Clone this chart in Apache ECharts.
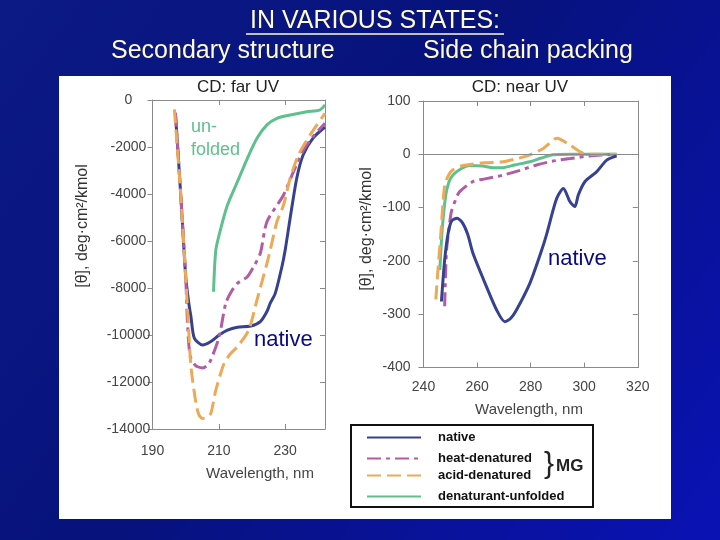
<!DOCTYPE html>
<html><head><meta charset="utf-8">
<script src="https://cdn.jsdelivr.net/npm/echarts@6/dist/echarts.min.js"></script>
<style>html,body{margin:0;padding:0;background:#06127a}#c{width:720px;height:540px}</style>
</head><body><div id="c"></div>
<script>
// ---------- DATA ----------
const seriesNames = ['native', 'heat-denatured', 'acid-denatured', 'denaturant-unfolded'];
const farTicks = [190, 210, 230];
const nearTicks = [240, 260, 280, 300, 320];

// Far UV (wavelength nm, ellipticity)
const farNativeX = [196.9,198.5,200,201,201.6,202.6,205.1,207.6,210.1,212.6,215.6,219.6,222.5,224.5,225.5,227,229,230,231.5,233.5,235.4,238.4,242];
const farNativeY = [-550,-4000,-7500,-8700,-9230,-10130,-10430,-10280,-10000,-9790,-9670,-9620,-9430,-9000,-8640,-8230,-7100,-6380,-5020,-3320,-2340,-1620,-1150];
const farHeatX = [196.9,198.5,200,200.6,201.4,203,205.1,206.5,207.6,210.1,212.1,214,215.6,218.6,220.5,222.5,224.5,229.5,232.5,235.5,238.4,242];
const farHeatY = [-550,-4000,-7500,-9650,-10920,-11300,-11400,-11300,-11060,-10070,-8640,-8100,-7800,-7520,-7090,-6520,-5180,-4040,-3050,-2130,-1560,-990];
const farAcidX = [196.6,198.5,200,200.8,201.6,203.1,204,205.1,206.5,207.6,209.1,211.6,213.5,215.6,219,221.5,224.5,225.5,227.5,229.5,231.5,234,237.5,242];
const farAcidY = [-400,-4000,-7500,-9500,-11350,-12900,-13400,-13550,-13500,-13330,-12340,-11200,-10800,-10500,-9790,-8510,-6950,-6380,-5180,-4470,-3330,-2340,-1490,-570];
const farUnfX = [208.4,209.1,210.6,212.6,215.6,218.6,221.5,224.5,227.5,231.5,236.5,240.4,242];
const farUnfY = [-8160,-6380,-5460,-4470,-3480,-2480,-1630,-1060,-780,-640,-500,-430,-210];

// Near UV
const nearNativeX = [246.7,247.9,249.2,250.5,252.5,254.5,256.5,258.5,263.5,267.3,270.4,272.5,274.7,279.7,284.1,285.9,289.7,292.2,294.7,296.5,297.8,300.3,304.6,308.4,312.1];
const nearNativeY = [-276,-198,-148,-125,-120,-128,-150,-186,-248,-292,-314,-308,-292,-242,-180,-151,-83,-64,-89,-98,-76,-51,-33,-11,-3];
const nearHeatX = [247.9,248.2,248.6,249.5,250.4,252,253.5,258.5,263,269.7,276,282.2,288,294.7,302,312];
const nearHeatY = [-285,-230,-180,-140,-108,-85,-70,-51,-46,-39,-30,-20,-13,-8,-3,0];
const nearAcidX = [244.6,245.5,246.3,247.9,249.5,251,254,257.3,263,269.7,275,279.7,284.7,289.9,294.7,299.6,305,312.1];
const nearAcidY = [-272,-210,-161,-58,-38,-29,-22,-19,-16,-14,-8,-1,11,30,17,2,0,0];
const nearUnfX = [246.1,247,248.3,249.5,251,254,257.3,262,266,269.7,274,279.7,284,288.4,295,312.1];
const nearUnfY = [-217,-140,-77,-52,-39,-27,-21,-22,-25,-25,-20,-14,-7,-1,0,0];

// ---------- STYLE ----------
const FONT = 'Liberation Sans, Arial, sans-serif';
const colors = {native:'#36428f', heat:'#b15ca4', acid:'#eda955', unf:'#5ec08d'};
const zip = (xs, ys) => xs.map((x, i) => [x, ys[i]]);

function line(name, xs, ys, color, type, xi, yi, extra) {
  return Object.assign({
    name, type:'line', xAxisIndex:xi, yAxisIndex:yi, data: zip(xs, ys),
    symbol:'none', smooth:0.25, clip:true,
    lineStyle:{color, width:3, type, cap:'butt'}, itemStyle:{color}
  }, extra || {});
}
const heatDash = [14,5,4,5];
const acidDash = [14,6];

const axisCol = '#8a8a8a';
function xAx(grid, min, max, pos, ticks, margin) {
  return {type:'value', gridIndex:grid, min, max, interval:20, position:pos,
    axisLine:{show:true, onZero:false, lineStyle:{color:axisCol, width:1}},
    axisTick:{show:true, inside:true, length:5, lineStyle:{color:axisCol}},
    splitLine:{show:false},
    axisLabel:{show:!!ticks, margin, fontSize:14, color:'#444', fontFamily:FONT,
      formatter: v => (ticks && ticks.indexOf(Math.round(v)) >= 0 ? String(Math.round(v)) : '')}};
}
function yAx(grid, min, max, interval, pos, opts) {
  return Object.assign({type:'value', gridIndex:grid, min, max, interval, position:pos,
    axisLine:{show:true, onZero:false, lineStyle:{color:axisCol, width:1}},
    axisTick:{show:true, inside:pos==='right', length:5, lineStyle:{color:axisCol}},
    splitLine:{show:false},
    axisLabel:{show:false}}, opts || {});
}

const chart = echarts.init(document.getElementById('c'), null, {renderer:'canvas'});
const option = {
  animation:false,
  textStyle:{fontFamily:FONT},
  grid:[
    {left:152.5, top:100, width:172.5, height:329},
    {left:423.5, top:101, width:214.3, height:266.6}
  ],
  xAxis:[
    xAx(0, 190, 242, 'bottom', farTicks, 15),
    xAx(0, 190, 242, 'top', null, 0),
    xAx(1, 240, 320, 'bottom', nearTicks, 13),
    xAx(1, 240, 320, 'top', null, 0)
  ],
  yAxis:[
    yAx(0, -14000, 0, 2000, 'left', {axisLabel:{show:true, margin:24, align:'center', fontSize:14, color:'#444', fontFamily:FONT, formatter: v => String(v)}}),
    yAx(0, -14000, 0, 2000, 'right'),
    yAx(1, -400, 100, 100, 'left', {axisLabel:{show:true, margin:13, fontSize:14, color:'#444', fontFamily:FONT, formatter: v => String(v)}}),
    yAx(1, -400, 100, 100, 'right')
  ],
  legend: seriesNames.map((n, i) => ({
    data:[n], left:366, top:[431, 452, 469, 490][i], orient:'vertical', padding:0,
    itemWidth:54, itemHeight:14, selectedMode:false,
    itemStyle:{opacity:0, borderWidth:0},
    textStyle:{fontSize:13, fontWeight:'bold', color:'#111', fontFamily:FONT, padding:[0,0,0,12]}
  })),
  series:[
    line('native', farNativeX, farNativeY, colors.native, 'solid', 0, 0),
    line('heat-denatured', farHeatX, farHeatY, colors.heat, heatDash, 0, 0),
    line('acid-denatured', farAcidX, farAcidY, colors.acid, acidDash, 0, 0),
    line('denaturant-unfolded', farUnfX, farUnfY, colors.unf, 'solid', 0, 0),
    line('denaturant-unfolded', nearUnfX, nearUnfY, colors.unf, 'solid', 2, 2, {
      markLine:{silent:true, symbol:'none', label:{show:false},
        lineStyle:{color:'#8a8a8a', width:1, type:'solid'}, data:[{yAxis:0}]}}),
    line('heat-denatured', nearHeatX, nearHeatY, colors.heat, heatDash, 2, 2),
    line('acid-denatured', nearAcidX, nearAcidY, colors.acid, acidDash, 2, 2),
    line('native', nearNativeX, nearNativeY, colors.native, 'solid', 2, 2)
  ],
  graphic:[
    {type:'rect', z:-100, shape:{x:0, y:0, width:720, height:540},
     style:{fill:new echarts.graphic.LinearGradient(0,0,1,1,[
       {offset:0, color:'#0c1a86'},{offset:0.45, color:'#07127c'},{offset:1, color:'#0a12b4'}])}},
    {type:'rect', z:-90, shape:{x:59, y:76, width:612, height:443}, style:{fill:'#ffffff'}},
    {type:'text', x:375, y:21, style:{text:'IN VARIOUS STATES:', fill:'#fffbcf', font:'25px '+FONT, textAlign:'center', textVerticalAlign:'middle'}},
    {type:'line', shape:{x1:246, y1:34, x2:504, y2:34}, style:{stroke:'#fffbcf', lineWidth:1.5}},
    {type:'text', x:111, y:51, style:{text:'Secondary structure', fill:'#fffbcf', font:'25px '+FONT, textAlign:'left', textVerticalAlign:'middle'}},
    {type:'text', x:423, y:51, style:{text:'Side chain packing', fill:'#fffbcf', font:'25px '+FONT, textAlign:'left', textVerticalAlign:'middle'}},
    {type:'text', x:238, y:87, style:{text:'CD: far UV', fill:'#222', font:'17px '+FONT, textAlign:'center', textVerticalAlign:'middle'}},
    {type:'text', x:520, y:87, style:{text:'CD: near UV', fill:'#222', font:'17px '+FONT, textAlign:'center', textVerticalAlign:'middle'}},
    {type:'text', x:83, y:226, rotation:Math.PI/2, style:{text:'[θ], deg·cm²/kmol', fill:'#333', font:'16px '+FONT, textAlign:'center', textVerticalAlign:'middle'}},
    {type:'text', x:367, y:229, rotation:Math.PI/2, style:{text:'[θ], deg·cm²/kmol', fill:'#333', font:'16px '+FONT, textAlign:'center', textVerticalAlign:'middle'}},
    {type:'text', x:260, y:474, style:{text:'Wavelength, nm', fill:'#444', font:'15px '+FONT, textAlign:'center', textVerticalAlign:'middle'}},
    {type:'text', x:529, y:410, style:{text:'Wavelength, nm', fill:'#444', font:'15px '+FONT, textAlign:'center', textVerticalAlign:'middle'}},
    {type:'text', x:191, y:127, style:{text:'un-', fill:colors.unf, font:'18px '+FONT, textAlign:'left', textVerticalAlign:'middle'}},
    {type:'text', x:191, y:150, style:{text:'folded', fill:colors.unf, font:'18px '+FONT, textAlign:'left', textVerticalAlign:'middle'}},
    {type:'text', x:254, y:340, style:{text:'native', fill:'#0a0a80', font:'22px '+FONT, textAlign:'left', textVerticalAlign:'middle'}},
    {type:'text', x:548, y:259, style:{text:'native', fill:'#0a0a80', font:'22px '+FONT, textAlign:'left', textVerticalAlign:'middle'}},
    {type:'rect', z:-50, shape:{x:351, y:425, width:242, height:82}, style:{fill:'#fff', stroke:'#111', lineWidth:2}},
    {type:'text', x:549, y:465, style:{text:'}', fill:'#222', font:'30px '+FONT, textAlign:'center', textVerticalAlign:'middle'}},
    {type:'text', x:556, y:466, style:{text:'MG', fill:'#222', font:'bold 17px '+FONT, textAlign:'left', textVerticalAlign:'middle'}}
  ]
};
chart.setOption(option);
</script></body></html>
